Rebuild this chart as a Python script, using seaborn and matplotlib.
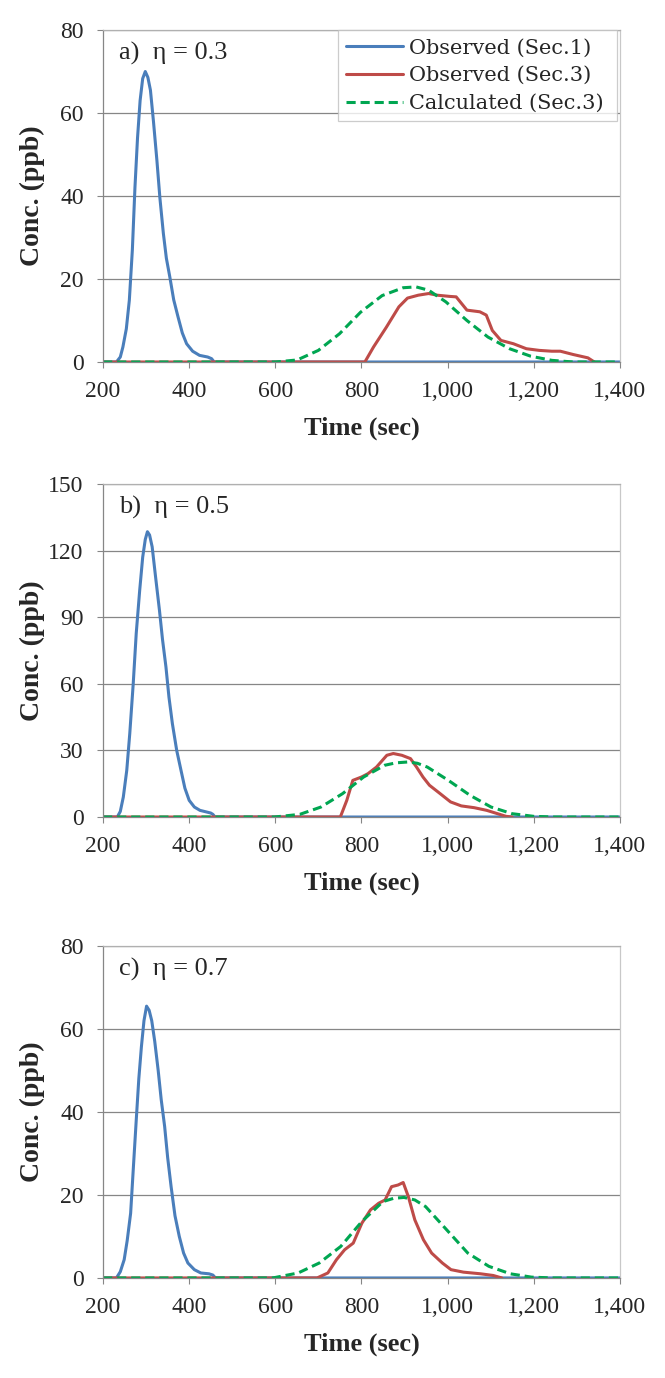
import matplotlib
matplotlib.use("Agg")
import matplotlib.pyplot as plt
import seaborn as sns
from matplotlib.ticker import FuncFormatter

# Panel a) eta = 0.3
a_sec1_t = [200, 231, 240, 246, 254, 261, 268, 274, 280, 286, 292, 298, 304, 310, 317, 325, 332, 340,
            347, 355, 364, 374, 384, 394, 408, 424, 443, 452, 458, 1400]
a_sec1_c = [0, 0, 1.2, 3.6, 8, 14.9, 27, 42, 54, 63, 68.3, 70, 68.6, 65.5, 58, 48.6, 39.5, 31,
            25, 20.5, 15, 10.9, 7, 4.4, 2.6, 1.6, 1.2, 0.8, 0, 0]
a_sec3_t = [200, 808, 828, 858, 887, 907, 932, 956, 976, 1006, 1020, 1045, 1075, 1090, 1104, 1124,
            1153, 1183, 1213, 1242, 1262, 1292, 1326, 1341]
a_sec3_c = [0, 0, 3.6, 8.4, 13.3, 15.4, 16.1, 16.5, 16.1, 15.8, 15.7, 12.5, 12.1, 11.3, 7.6, 5.2,
            4.4, 3.2, 2.8, 2.6, 2.6, 1.8, 1.0, 0]
a_calc_t = [200, 601, 651, 700, 749, 798, 848, 897, 927, 956, 996, 1045, 1094, 1144, 1193, 1242, 1292, 1400]
a_calc_c = [0, 0, 0.5, 2.8, 6.8, 12, 16, 17.9, 18.1, 17.3, 14.5, 10, 6, 3.2, 1.4, 0.4, 0, 0]

# Panel b) eta = 0.5
b_sec1_t = [200, 233, 240, 247, 255, 262, 270, 277, 285, 292, 298, 303, 308, 314, 322, 331, 338, 346,
            353, 361, 371, 381, 390, 400, 412, 425, 450, 455, 460, 1400]
b_sec1_c = [0, 0, 2.5, 9, 21, 37.6, 60, 82.7, 102, 117, 125, 128.5, 127, 121.7, 108, 93, 80, 67.6,
            54, 42, 30, 21, 13, 7.5, 4.5, 3, 1.8, 1.2, 0, 0]
b_sec3_t = [200, 751, 766, 780, 800, 815, 835, 859, 874, 894, 914, 928, 943, 958, 983, 1007, 1032,
            1062, 1091, 1116, 1136, 1150]
b_sec3_c = [0, 0, 7.5, 16.5, 18, 19.5, 22.5, 27.8, 28.6, 27.8, 26.3, 22.5, 18, 14.3, 10.5, 6.8, 5,
            4.2, 3, 1.5, 0.3, 0]
b_calc_t = [200, 598, 657, 706, 756, 805, 854, 880, 909, 930, 953, 1002, 1052, 1101, 1150, 1200, 1249, 1400]
b_calc_c = [0, 0, 1.2, 4.5, 10.5, 18, 23.3, 24.4, 24.8, 24.2, 22.5, 16.5, 9.8, 4.5, 1.5, 0.3, 0, 0]

# Panel c) eta = 0.7
c_sec1_t = [200, 231, 240, 249, 256, 264, 270, 277, 283, 289, 295, 301, 307, 313, 320, 328, 335, 343,
            350, 358, 367, 377, 387, 397, 412, 427, 446, 455, 461, 1400]
c_sec1_c = [0, 0, 1.5, 4.4, 9, 15.6, 26, 38, 48, 55.7, 62, 65.5, 64.5, 62, 57, 50, 43, 36.5,
            29, 22, 15, 10, 6, 3.6, 2, 1.2, 1.0, 0.7, 0, 0]
c_sec3_t = [200, 697, 722, 742, 761, 781, 801, 821, 840, 855, 870, 885, 897, 909, 924, 944, 963,
            988, 1008, 1037, 1077, 1106, 1126]
c_sec3_c = [0, 0, 1.2, 4.4, 6.8, 8.4, 13.2, 16.4, 18, 18.8, 22, 22.4, 23, 19.6, 14, 9.2, 6,
            3.6, 2, 1.4, 1.0, 0.6, 0]
c_calc_t = [200, 594, 653, 702, 752, 801, 850, 875, 899, 924, 949, 998, 1047, 1096, 1146, 1195, 1244, 1400]
c_calc_c = [0, 0, 1.2, 3.6, 7.6, 13.6, 18.4, 19.2, 19.4, 18.8, 17.2, 11.6, 6, 2.8, 1.0, 0.2, 0, 0]

panel_labels = ["a)  η = 0.3", "b)  η = 0.5", "c)  η = 0.7"]
y_maxes = [80, 150, 80]
y_steps = [20, 30, 20]
x_ticks = [200, 400, 600, 800, 1000, 1200, 1400]
series_names = ["Observed (Sec.1)", "Observed (Sec.3)", "Calculated (Sec.3)"]

panels = [
    (a_sec1_t, a_sec1_c, a_sec3_t, a_sec3_c, a_calc_t, a_calc_c),
    (b_sec1_t, b_sec1_c, b_sec3_t, b_sec3_c, b_calc_t, b_calc_c),
    (c_sec1_t, c_sec1_c, c_sec3_t, c_sec3_c, c_calc_t, c_calc_c),
]

sns.set_style("white")
plt.rcParams["font.family"] = ["Liberation Serif", "DejaVu Serif"]

blue = "#4A7EBB"
red = "#BE4B48"
green = "#00A651"
gray = "#868686"

fig = plt.figure(figsize=(6.65, 13.78), dpi=100)
# axes boxes in figure fraction
boxes = [(0.155, 0.7373, 0.777, 0.2409),
         (0.155, 0.4071, 0.777, 0.2417),
         (0.155, 0.0726, 0.777, 0.2409)]

for i, (t1, c1, t3, c3, tc, cc) in enumerate(panels):
    ax = fig.add_axes(boxes[i])
    show = i == 0
    sns.lineplot(x=t1, y=c1, ax=ax, color=blue, lw=2.2, estimator=None, sort=False,
                 label=series_names[0] if show else None, legend=show)
    sns.lineplot(x=t3, y=c3, ax=ax, color=red, lw=2.2, estimator=None, sort=False,
                 label=series_names[1] if show else None, legend=show)
    sns.lineplot(x=tc, y=cc, ax=ax, color=green, lw=2.2, ls=(0, (3, 1.6)), estimator=None, sort=False,
                 label=series_names[2] if show else None, legend=show)

    ax.set_xlim(200, 1400)
    ax.set_ylim(0, y_maxes[i])
    ax.set_xticks(x_ticks)
    ax.set_yticks(range(0, y_maxes[i] + 1, y_steps[i]))
    ax.xaxis.set_major_formatter(FuncFormatter(lambda v, p: f"{v:,.0f}"))
    ax.yaxis.grid(True, color=gray, lw=0.9)
    ax.set_axisbelow(True)
    for s in ax.spines.values():
        s.set_color(gray)
        s.set_linewidth(0.9)
    ax.spines["top"].set_color("#B0B0B0")
    ax.spines["right"].set_color("#C8C8C8")
    ax.tick_params(axis="x", bottom=True, length=4, color=gray, labelsize=17, pad=10)
    ax.tick_params(axis="y", left=True, length=4, color=gray, labelsize=17, pad=10)

    ax.set_xlabel("Time (sec)", fontsize=19, fontweight="bold", labelpad=10)
    ax.set_ylabel("Conc. (ppb)", fontsize=20, fontweight="bold")
    ax.yaxis.set_label_coords(-0.112, 0.5)
    ax.text(0.031, 0.93, panel_labels[i], transform=ax.transAxes, fontsize=19, va="center", ha="left")

    if show:
        leg = ax.legend(loc="upper right", bbox_to_anchor=(0.4545, 0, 0.5395, 1.0), mode="expand",
                        borderaxespad=0, prop={"family": "DejaVu Serif", "size": 15}, frameon=True,
                        fancybox=False, labelspacing=0.42, handlelength=2.7, handletextpad=0.3,
                        borderpad=0.4)
        leg.get_frame().set_edgecolor("#C0C0C0")
        leg.get_frame().set_linewidth(0.9)

fig.savefig("out.png", dpi=100)
